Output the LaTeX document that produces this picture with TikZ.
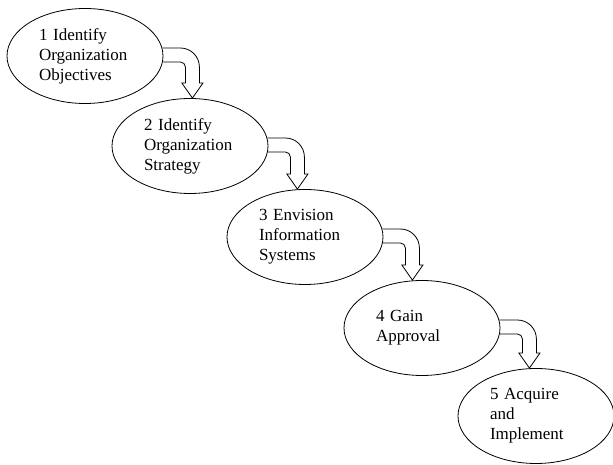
\documentclass[tikz,border=0pt]{standalone}
\usepackage{fontspec}
\setmainfont{Liberation Serif}
\usetikzlibrary{shapes.geometric,calc}
\begin{document}
\begin{tikzpicture}[x=1pt,y=1pt,line width=0.8pt,font=\fontsize{17}{20}\selectfont,
		stage/.style={draw,ellipse,minimum width=156pt,minimum height=95pt,inner sep=0pt,text width=92pt,align=left}]
		\useasboundingbox (0,0) rectangle (613,465);
		\node[stage] (s1) at (85,409) {1 Identify\\Organization\\Objectives};
		\node[stage] (s2) at (190,319) {2 Identify\\Organization\\Strategy};
		\node[stage] (s3) at (305,228) {3 Envision\\Information\\Systems};
		\node[stage] (s4) at (422,137) {4 Gain\\Approval};
		\node[stage] (s5) at (536,49) {5 Acquire\\and\\Implement};
		\foreach \a/\b in {s1/s2,s2/s3,s3/s4,s4/s5}
			\draw[line join=miter] let \p1=(\a.east), \p2=(\b.north) in
			(\x1-1pt,\y1+8pt) -- (\x1+17pt,\y1+8pt) arc[start angle=90,end angle=0,radius=19pt]
			-- (\x1+36pt,\y2+15pt) -- (\x1+39.5pt,\y2+15pt) -- (\x1+29pt,\y2) -- (\x1+18.5pt,\y2+15pt)
			-- (\x1+22pt,\y2+15pt) -- (\x1+22pt,\y1-11pt) arc[start angle=0,end angle=90,radius=5pt]
			-- (\x1-1pt,\y1-6pt);
\end{tikzpicture}
\end{document}
